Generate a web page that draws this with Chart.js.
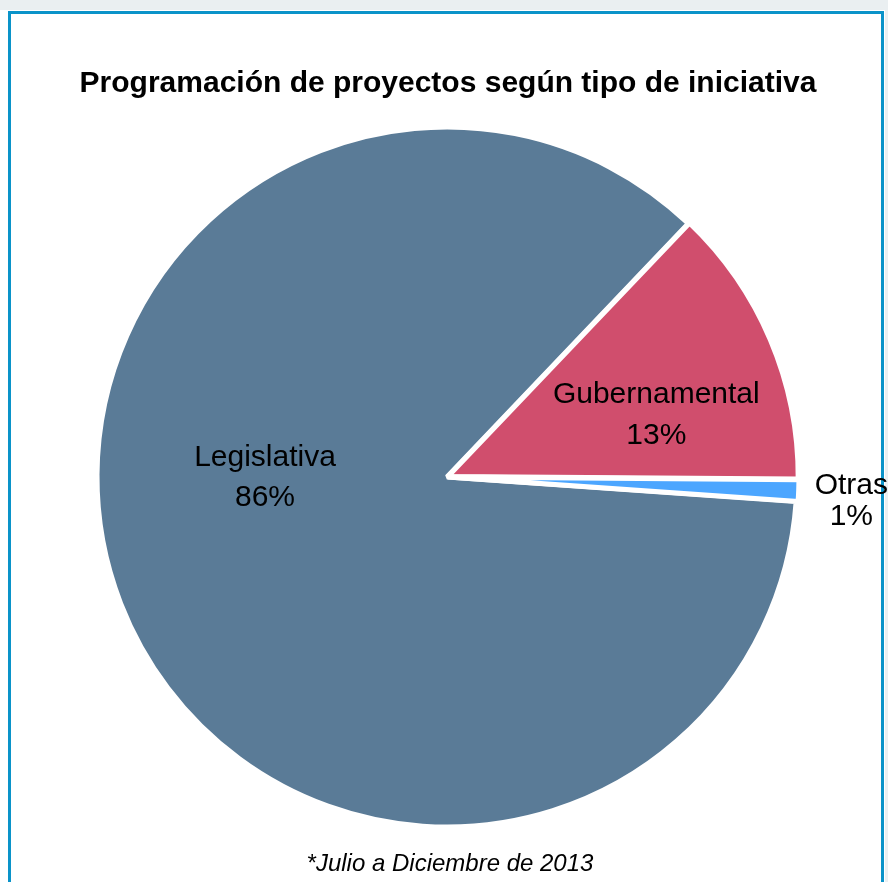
<!DOCTYPE html>
<html lang="es">
<head>
  <meta charset="UTF-8">
  <title>Programación de proyectos según tipo de iniciativa</title>
  <script src="https://cdn.jsdelivr.net/npm/chart.js"></script>
  <style>
    body { margin: 0; background: #fff; }
    #wrap { position: relative; width: 888px; height: 882px; overflow: hidden; background: #fff; }
    #topstrip { position: absolute; left: 0; top: 0; width: 888px; height: 10px; background: #eaeff1; }
    #rightstrip { position: absolute; left: 885px; top: 0; width: 3px; height: 882px; background: #eaeff1; }
    #frame { position: absolute; left: 8px; top: 11px; width: 870px; height: 900px;
             border: 3px solid #0a93c9; }
    canvas { position: absolute; left: 0; top: 0; }
  </style>
</head>
<body>
<div id="wrap">
  <div id="topstrip"></div>
  <div id="rightstrip"></div>
  <div id="frame"></div>
  <canvas id="myChart" width="888" height="882"></canvas>
</div>

<script>
  // data
  const categories = ['Legislativa', 'Gubernamental', 'Otras'];
  const shares = [86, 13, 1];
  const sliceColors = ['#5a7b97', '#d04e6d', '#4ca6ff'];
  const chartTitle = 'Programación de proyectos según tipo de iniciativa';
  const footnote = '*Julio a Diciembre de 2013';

  // draws "Name / NN%" labels inside/outside the slices, placed from each arc's geometry
  const sliceLabels = {
    id: 'sliceLabels',
    afterDatasetsDraw(chart, args, opts) {
      const ctx = chart.ctx;
      const meta = chart.getDatasetMeta(0);
      const total = shares.reduce((a, b) => a + b, 0);
      ctx.save();
      ctx.fillStyle = '#000';
      ctx.font = opts.font;
      ctx.textAlign = 'center';
      ctx.textBaseline = 'alphabetic';
      meta.data.forEach((arc, i) => {
        const p = arc.getProps(['x', 'y', 'startAngle', 'endAngle', 'outerRadius'], true);
        const a = p.startAngle + opts.angleFrac[i] * (p.endAngle - p.startAngle);
        const r = p.outerRadius * opts.radiusFrac[i];
        const cx = p.x + Math.cos(a) * r;
        const cy = p.y + Math.sin(a) * r;
        const lh = opts.lineHeights[i];
        const pct = Math.round(shares[i] / total * 100) + '%';
        ctx.fillText(categories[i], cx, cy - lh / 2 + 10);
        ctx.fillText(pct, cx, cy + lh / 2 + 10);
      });
      ctx.restore();
    }
  };

  // title on top, footnote at the bottom
  const headings = {
    id: 'headings',
    afterDraw(chart) {
      const ctx = chart.ctx;
      ctx.save();
      ctx.fillStyle = '#000';
      ctx.textAlign = 'center';
      ctx.textBaseline = 'alphabetic';
      ctx.font = 'bold 30px "Liberation Sans", Arial, sans-serif';
      ctx.fillText(chartTitle, 448, 92);
      ctx.font = 'italic 24px "Liberation Sans", Arial, sans-serif';
      ctx.fillText(footnote, 450, 871);
      ctx.restore();
    }
  };

  const ctx = document.getElementById('myChart').getContext('2d');
  new Chart(ctx, {
    type: 'pie',
    data: {
      labels: categories,
      datasets: [{
        data: shares,
        backgroundColor: sliceColors,
        borderColor: '#ffffff',
        borderWidth: 5,
        offset: [0, 4, 4]
      }]
    },
    options: {
      responsive: false,
      animation: false,
      rotation: 94,
      radius: 350,
      layout: { padding: { top: 100, bottom: 28, left: 50, right: 44 } },
      plugins: {
        legend: { display: false },
        tooltip: { enabled: false },
        sliceLabels: {
          font: '30px "Liberation Sans", Arial, sans-serif',
          angleFrac: [0.57, 0.63, 0.78],
          radiusFrac: [0.52, 0.625, 1.157],
          lineHeights: [40, 41, 31]
        }
      }
    },
    plugins: [sliceLabels, headings]
  });
</script>
</body>
</html>
